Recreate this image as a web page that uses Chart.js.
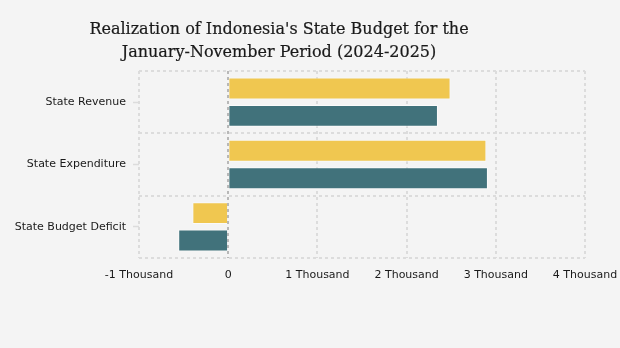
<!DOCTYPE html>
<html lang="en">
<head>
  <meta charset="UTF-8">
  <title>State Budget Realization</title>
  <style>
    body { margin: 0; background: #f4f4f4; }
    #wrap { position: relative; width: 620px; height: 348px; }
    #title {
      position: absolute; left: 0; top: 17px; width: 558px;
      text-align: center; font-family: "DejaVu Serif", serif;
      font-size: 16px; line-height: 23px; color: #1a1a1a;
      -webkit-text-stroke: 0.2px #1a1a1a;
    }
    canvas { position: absolute; left: 0; top: 0; }
  </style>
</head>
<body>
  <div id="wrap">
    <canvas id="canvas" width="620" height="348"></canvas>
    <div id="title">Realization of Indonesia's State Budget for the<br>January-November Period (2024-2025)</div>
  </div>
  <script src="https://cdn.jsdelivr.net/npm/chart.js"></script>
  <script>
    // values in trillion rupiah
    const categories = ['State Revenue', 'State Expenditure', 'State Budget Deficit'];
    const values2024 = [2492.7, 2894.5, -401.8];
    const values2025 = [2351.5, 2911.8, -560.3];
    const seriesNames = ['2024', '2025'];

    const gridColor = '#dcdcdc';
    const labelFont = { family: 'DejaVu Sans', size: 11 };

    new Chart(document.getElementById('canvas'), {
      type: 'bar',
      data: {
        labels: categories,
        datasets: [
          {
            label: seriesNames[0],
            data: values2024,
            backgroundColor: '#f0c750',
            borderColor: 'rgba(255,255,255,0.5)',
            borderWidth: 1
          },
          {
            label: seriesNames[1],
            data: values2025,
            backgroundColor: '#41727b',
            borderColor: 'rgba(255,255,255,0.6)',
            borderWidth: 1
          }
        ]
      },
      options: {
        indexAxis: 'y',
        responsive: false,
        animation: false,
        layout: { padding: { top: 71, right: 0, bottom: 60, left: 0 } },
        datasets: { bar: { categoryPercentage: 0.88, barPercentage: 0.8 } },
        plugins: {
          legend: { display: false },
          tooltip: { enabled: false }
        },
        scales: {
          x: {
            min: -1000,
            max: 4000,
            ticks: {
              stepSize: 1000,
              padding: 11,
              color: '#1a1a1a',
              font: labelFont,
              callback: v => v === 0 ? '0' : (v / 1000) + ' Thousand'
            },
            grid: {
              drawTicks: false,
              lineWidth: 2,
              color: ctx => ctx.tick && ctx.tick.value === 0 ? '#b8b8b8' : gridColor
            },
            border: { display: false, dash: [3, 3] },
            afterFit: s => { s.height = 30; s.paddingRight = 35; }
          },
          y: {
            weight: 1,
            ticks: { padding: 13, color: '#1a1a1a', font: labelFont },
            grid: { offset: true, lineWidth: 2, color: gridColor, drawTicks: false },
            border: { display: false, dash: [3, 3] },
            afterFit: s => { s.width = 139; }
          },
          // only draws the small tick marks next to each category label
          yMarks: {
            type: 'category',
            axis: 'y',
            position: 'left',
            weight: 0,
            offset: true,
            ticks: { display: false },
            grid: {
              offset: false,
              drawOnChartArea: false,
              tickLength: 6,
              tickColor: gridColor,
              tickWidth: 1.5
            },
            border: { display: false },
            afterFit: s => { s.width = 0; }
          }
        }
      }
    });
  </script>
</body>
</html>
